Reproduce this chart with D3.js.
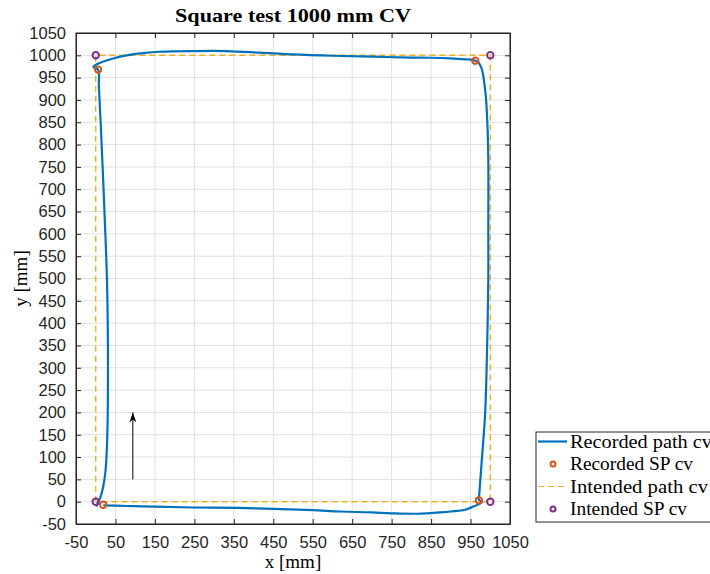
<!DOCTYPE html>
<html>
<head>
<meta charset="utf-8">
<script src="https://cdn.jsdelivr.net/npm/d3@7"></script>
<style>
  html, body { margin: 0; padding: 0; background: #fff; overflow: hidden; }
  svg { display: block; }
</style>
</head>
<body>
<svg id="chart" width="710" height="574"></svg>
<script>
// Intended square corners (set points) and recorded set points
const intendedX = [0, 0, 1000, 1000, 0];
const intendedY = [0, 1000, 1000, 0, 0];
const spIntendedX = [0, 0, 1000, 1000];
const spIntendedY = [0, 1000, 1000, 0];
const spRecordedX = [19, 6, 962, 971];
const spRecordedY = [-7, 968, 988, 3];

// Recorded tool path (counter-clockwise order as driven)
const pathX = [2, 6, 11, 19, 25, 29, 31, 29, 22, 13, 8, 6,
  -6, 5, 19, 44, 78, 120, 163, 247, 332, 416, 500, 600, 700, 800, 847, 900, 940, 962,
  970, 978, 988, 993, 995, 995, 995, 992, 987, 978, 972, 971,
  979, 970, 957, 936, 900, 873, 817, 750, 700, 620, 550, 450, 360, 250, 150, 100, 50, 19];
const pathY = [-11, 0, 8, 34, 71, 138, 272, 480, 653, 840, 930, 968,
  974, 981, 986, 993, 1000, 1005, 1008, 1009.5, 1009.5, 1006, 1002, 999, 997, 995, 994.5, 993, 991, 988,
  984, 971, 915, 840, 765, 600, 497, 347, 198, 87, 15, 4,
  0, -6, -11, -18, -22, -24, -27, -26, -24, -22, -19, -16, -14, -13, -11, -10, -9, -8];

// Direction arrow
const arrowX = [94, 94];
const arrowY = [50, 200];

const xTicks = d3.range(-50, 1051, 100);
const yTicks = d3.range(-50, 1051, 50);

const legendLabels = ["Recorded path cv", "Recorded SP cv", "Intended path cv", "Intended SP cv"];

const colors = { path: "#0072BD", spRec: "#D95319", intended: "#EDB120", spInt: "#7E2F8E" };
const axisColor = "#262626";
const gridColor = "#e0e0e0";

const plot = { left: 76, top: 33, right: 510, bottom: 524 };
const x = d3.scaleLinear().domain([-50, 1050]).range([plot.left, plot.right]);
const y = d3.scaleLinear().domain([-50, 1050]).range([plot.bottom, plot.top]);

const svg = d3.select("#chart");
const serif = "'Liberation Serif', 'DejaVu Serif', serif";
const sans = "'Liberation Sans', Arial, sans-serif";
const plain = d => String(d);

// Grid
const grid = svg.append("g");
grid.selectAll("line.gx").data(xTicks).join("line")
  .attr("class", "gx")
  .attr("x1", d => x(d)).attr("x2", d => x(d))
  .attr("y1", plot.top).attr("y2", plot.bottom)
  .attr("stroke", gridColor).attr("stroke-width", 1);
grid.selectAll("line.gy").data(yTicks).join("line")
  .attr("class", "gy")
  .attr("x1", plot.left).attr("x2", plot.right)
  .attr("y1", d => y(d)).attr("y2", d => y(d))
  .attr("stroke", gridColor).attr("stroke-width", 1);

// Axes
const xAxis = d3.axisBottom(x).tickValues(xTicks).tickFormat(plain)
  .tickSizeInner(-5).tickSizeOuter(0).tickPadding(12);
const yAxis = d3.axisLeft(y).tickValues(yTicks).tickFormat(plain)
  .tickSizeInner(-5).tickSizeOuter(0).tickPadding(10);
const gx = svg.append("g").attr("transform", `translate(0,${plot.bottom})`).call(xAxis);
const gy = svg.append("g").attr("transform", `translate(${plot.left},0)`).call(yAxis);
// Mirrored ticks on top and right
const gxt = svg.append("g").attr("transform", `translate(0,${plot.top})`)
  .call(d3.axisTop(x).tickValues(xTicks).tickSizeInner(-5).tickSizeOuter(0).tickFormat(""));
const gyr = svg.append("g").attr("transform", `translate(${plot.right},0)`)
  .call(d3.axisRight(y).tickValues(yTicks).tickSizeInner(-5).tickSizeOuter(0).tickFormat(""));
[gx, gy, gxt, gyr].forEach(g => {
  g.select(".domain").attr("stroke", axisColor);
  g.selectAll(".tick line").attr("stroke", axisColor);
  g.selectAll(".tick text").attr("fill", axisColor)
    .style("font-family", sans).style("font-size", "16.5px");
});

// Intended path
const line = d3.line().x(d => x(d[0])).y(d => y(d[1]));
svg.append("path")
  .datum(intendedX.map((v, i) => [v, intendedY[i]]))
  .attr("d", line)
  .attr("fill", "none").attr("stroke", colors.intended)
  .attr("stroke-width", 1.4).attr("stroke-dasharray", "6,4");

// Recorded path
const smooth = d3.line().x(d => x(d[0])).y(d => y(d[1])).curve(d3.curveCatmullRom.alpha(0.5));
svg.append("path")
  .datum(pathX.map((v, i) => [v, pathY[i]]))
  .attr("d", smooth)
  .attr("fill", "none").attr("stroke", colors.path)
  .attr("stroke-width", 2.2).attr("stroke-linejoin", "round");

// Set point markers
svg.append("g").selectAll("circle").data(spRecordedX.map((v, i) => [v, spRecordedY[i]])).join("circle")
  .attr("cx", d => x(d[0])).attr("cy", d => y(d[1])).attr("r", 3.2)
  .attr("fill", "none").attr("stroke", colors.spRec).attr("stroke-width", 2);
svg.append("g").selectAll("circle").data(spIntendedX.map((v, i) => [v, spIntendedY[i]])).join("circle")
  .attr("cx", d => x(d[0])).attr("cy", d => y(d[1])).attr("r", 3.2)
  .attr("fill", "none").attr("stroke", colors.spInt).attr("stroke-width", 2);

// Box
svg.append("rect")
  .attr("x", plot.left).attr("y", plot.top)
  .attr("width", plot.right - plot.left).attr("height", plot.bottom - plot.top)
  .attr("fill", "none").attr("stroke", axisColor).attr("stroke-width", 1);

// Direction arrow
const defs = svg.append("defs");
defs.append("marker").attr("id", "arrowhead")
  .attr("viewBox", "0 0 10 10").attr("refX", 10).attr("refY", 5)
  .attr("markerWidth", 10).attr("markerHeight", 10).attr("markerUnits", "userSpaceOnUse")
  .attr("orient", "auto")
  .append("path").attr("d", "M0,1.5 L10,5 L0,8.5 L3,5 Z").attr("fill", "#000");
svg.append("line")
  .attr("x1", x(arrowX[0])).attr("y1", y(arrowY[0]))
  .attr("x2", x(arrowX[1])).attr("y2", y(arrowY[1]))
  .attr("stroke", "#000").attr("stroke-width", 1)
  .attr("marker-end", "url(#arrowhead)");

// Title and axis labels
svg.append("text").attr("x", (plot.left + plot.right) / 2).attr("y", 22)
  .attr("text-anchor", "middle").style("font-family", serif).style("font-weight", "bold")
  .style("font-size", "19px").attr("fill", "#000")
  .attr("textLength", 236).attr("lengthAdjust", "spacingAndGlyphs")
  .text("Square test 1000 mm CV");
svg.append("text").attr("x", (plot.left + plot.right) / 2).attr("y", 568)
  .attr("text-anchor", "middle").style("font-family", serif)
  .style("font-size", "19px").attr("fill", "#000").text("x [mm]");
svg.append("text").attr("transform", `translate(27,${(plot.top + plot.bottom) / 2}) rotate(-90)`)
  .attr("text-anchor", "middle").style("font-family", serif)
  .style("font-size", "19px").attr("fill", "#000").text("y [mm]");

// Legend
const lg = svg.append("g").attr("transform", "translate(536,432)");
lg.append("rect").attr("x", 0).attr("y", 0).attr("width", 190).attr("height", 90)
  .attr("fill", "#fff").attr("stroke", axisColor).attr("stroke-width", 1);
const rowY = [9.5, 32, 54.5, 77];
const labelWidths = [142, 123, 138, 117];
lg.append("line").attr("x1", 2).attr("x2", 31).attr("y1", rowY[0]).attr("y2", rowY[0])
  .attr("stroke", colors.path).attr("stroke-width", 2.2);
lg.append("circle").attr("cx", 17).attr("cy", rowY[1]).attr("r", 2.5)
  .attr("fill", "none").attr("stroke", colors.spRec).attr("stroke-width", 2);
lg.append("line").attr("x1", 2).attr("x2", 31).attr("y1", rowY[2]).attr("y2", rowY[2])
  .attr("stroke", colors.intended).attr("stroke-width", 1.2).attr("stroke-dasharray", "6,4");
lg.append("circle").attr("cx", 17).attr("cy", rowY[3]).attr("r", 2.5)
  .attr("fill", "none").attr("stroke", colors.spInt).attr("stroke-width", 2);
lg.selectAll("text").data(legendLabels).join("text")
  .attr("x", 34).attr("y", (d, i) => rowY[i] + 6)
  .attr("textLength", (d, i) => labelWidths[i]).attr("lengthAdjust", "spacingAndGlyphs")
  .style("font-family", serif).style("font-size", "18.5px").attr("fill", "#000")
  .text(d => d);
</script>
</body>
</html>
